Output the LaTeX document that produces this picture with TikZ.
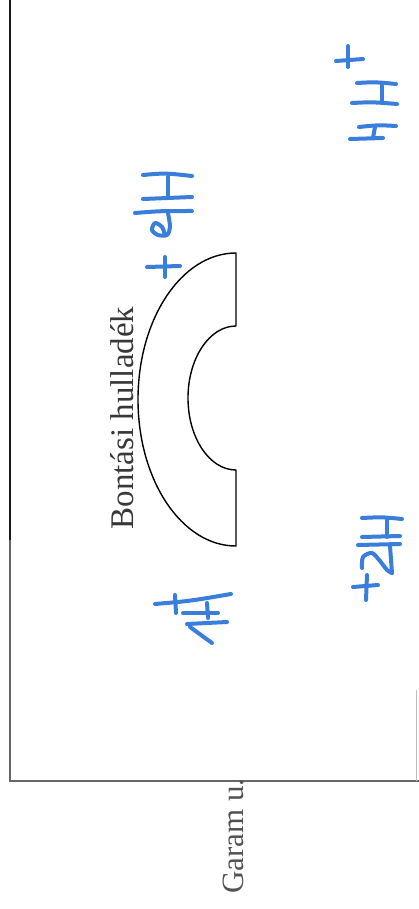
\documentclass[tikz,border=0pt]{standalone}
\usepackage{fontspec}
\setmainfont{Liberation Serif}
\begin{document}
\begin{tikzpicture}[x=1pt,y=1pt,
  hand/.style={draw={rgb,255:red,58;green,126;blue,220}, line width=4pt, line cap=round, line join=round},
  frameline/.style={draw=black!60, line width=1.4pt},
  label/.style={inner sep=0pt, anchor=base, rotate=90}]
\useasboundingbox (0,0) rectangle (419,-909);
\fill[white] (0,0) rectangle (419,-909);
% frame
\coordinate (tl) at (10,0);
\coordinate (mid) at (10,-540);
\coordinate (bl) at (10,-781);
\coordinate (br) at (419,-781);
\coordinate (rt) at (416,-690);
\coordinate (rb) at (416,-781);
\draw[draw=black!90, line width=2pt] (tl) -- (mid);
\draw[frameline] (mid) -- (bl) -- (br);
\draw[draw=black!25, line width=1pt] (rt) -- (rb);
% shape
\draw[line width=1.4pt, line join=round] (236,-253)
  arc[start angle=90, end angle=270, x radius=98, y radius=146.5]
  -- (236,-470)
  arc[start angle=270, end angle=90, x radius=48, y radius=72]
  -- cycle;
% texts
\node[label, text=black!78, font=\fontsize{33}{33}\selectfont] (bont) at (133,-418) {Bontási hulladék};
\node[label, text=black!68, font=\fontsize{31}{31}\selectfont] (garam) at (243,-836) {Garam u.};
% handwritten mark top right
\draw[hand] (336,-61) -- (363,-59);
\draw[hand] (348,-46) -- (348,-67);
\draw[hand] (357,-83) .. controls (375,-82) .. (396,-84);
\draw[hand] (382,-85) -- (382,-102);
\draw[hand] (352,-103) .. controls (372,-102) .. (397,-104);
\draw[hand] (359,-127) .. controls (378,-125) .. (396,-126);
\draw[hand] (375,-127) -- (373,-138);
\draw[hand] (350,-139) -- (383,-138);
% handwritten mark near shape
\draw[hand] (143,-175) .. controls (165,-173) .. (192,-176);
\draw[hand] (168,-177) -- (168,-198);
\draw[hand] (143,-199) -- (192,-197);
\draw[hand] (135,-213) .. controls (160,-211) .. (192,-211);
\draw[hand] plot[smooth] coordinates {(168,-213) (170,-227) (167,-235) (158,-235) (152,-230) (155,-223) (162,-227) (165,-235)};
\draw[hand] (147,-267) -- (180,-266);
\draw[hand] (165,-257) -- (165,-277);
% handwritten mark middle right
\draw[hand] (362,-518) .. controls (382,-517) .. (402,-519);
\draw[hand] (387,-518) -- (387,-537);
\draw[hand] (362,-537) -- (400,-536);
\draw[hand] (358,-545) -- (400,-544);
\draw[hand] (390,-546) -- (392,-573);
\draw[hand] plot[smooth] coordinates {(362,-568) (363,-557) (372,-553) (380,-561) (387,-570) (392,-573)};
\draw[hand] (353,-587) -- (378,-585);
\draw[hand] (367,-575) -- (366,-600);
% handwritten mark bottom left
\draw[hand] (155,-604) .. controls (190,-601) .. (231,-594);
\draw[hand] (175,-595) -- (176,-613);
\draw[hand] (207,-603) -- (208,-618);
\draw[hand] (183,-613) -- (218,-613);
\draw[hand] (187,-624) -- (227,-622);
\draw[hand] (190,-627) -- (212,-643);
\end{tikzpicture}
\end{document}
